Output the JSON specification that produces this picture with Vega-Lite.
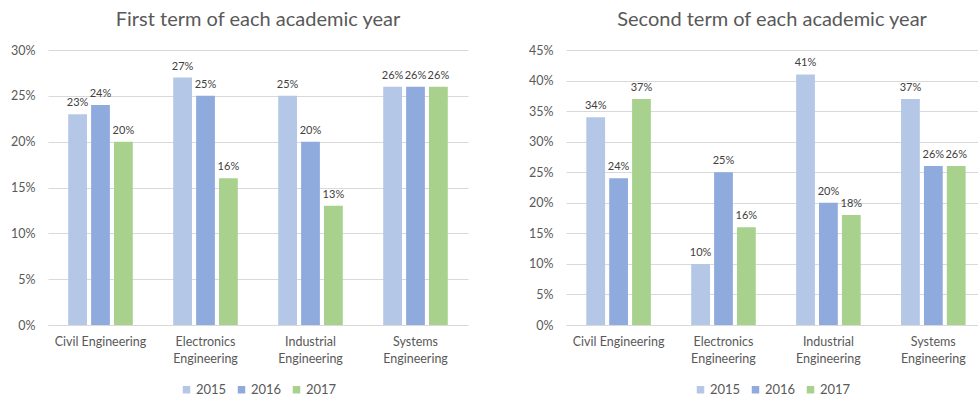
{
  "$schema": "https://vega.github.io/schema/vega-lite/v6.json",
  "background": "white",
  "padding": {"left": 10, "right": 0, "top": 10, "bottom": 0},
  "config": {
    "font": "Lato",
    "view": {"stroke": null},
    "axis": {"labelColor": "#595959", "labelFontSize": 12.5, "title": null, "ticks": false, "gridColor": "#D9D9D9", "domainColor": "#D9D9D9"},
    "title": {"fontSize": 20, "fontWeight": "normal", "color": "#595959", "offset": 14},
    "legend": {"layout": {"bottom": {"anchor": "middle"}}},
    "concat": {"spacing": 60}
  },
  "data": {
    "values": [
      {"term": "first", "dept": "Civil Engineering", "year": "2015", "value": 0.23},
      {"term": "first", "dept": "Civil Engineering", "year": "2016", "value": 0.24},
      {"term": "first", "dept": "Civil Engineering", "year": "2017", "value": 0.20},
      {"term": "first", "dept": "Electronics Engineering", "year": "2015", "value": 0.27},
      {"term": "first", "dept": "Electronics Engineering", "year": "2016", "value": 0.25},
      {"term": "first", "dept": "Electronics Engineering", "year": "2017", "value": 0.16},
      {"term": "first", "dept": "Industrial Engineering", "year": "2015", "value": 0.25},
      {"term": "first", "dept": "Industrial Engineering", "year": "2016", "value": 0.20},
      {"term": "first", "dept": "Industrial Engineering", "year": "2017", "value": 0.13},
      {"term": "first", "dept": "Systems Engineering", "year": "2015", "value": 0.26},
      {"term": "first", "dept": "Systems Engineering", "year": "2016", "value": 0.26},
      {"term": "first", "dept": "Systems Engineering", "year": "2017", "value": 0.26},
      {"term": "second", "dept": "Civil Engineering", "year": "2015", "value": 0.34},
      {"term": "second", "dept": "Civil Engineering", "year": "2016", "value": 0.24},
      {"term": "second", "dept": "Civil Engineering", "year": "2017", "value": 0.37},
      {"term": "second", "dept": "Electronics Engineering", "year": "2015", "value": 0.10},
      {"term": "second", "dept": "Electronics Engineering", "year": "2016", "value": 0.25},
      {"term": "second", "dept": "Electronics Engineering", "year": "2017", "value": 0.16},
      {"term": "second", "dept": "Industrial Engineering", "year": "2015", "value": 0.41},
      {"term": "second", "dept": "Industrial Engineering", "year": "2016", "value": 0.20},
      {"term": "second", "dept": "Industrial Engineering", "year": "2017", "value": 0.18},
      {"term": "second", "dept": "Systems Engineering", "year": "2015", "value": 0.37},
      {"term": "second", "dept": "Systems Engineering", "year": "2016", "value": 0.26},
      {"term": "second", "dept": "Systems Engineering", "year": "2017", "value": 0.26}
    ]
  },
  "resolve": {"legend": {"color": "independent"}, "scale": {"color": "independent"}},
  "hconcat": [
    {
      "title": "First term of each academic year",
      "width": 420,
      "height": 275,
      "transform": [{"filter": "datum.term == 'first'"}],
      "encoding": {
        "x": {"field": "dept", "type": "nominal", "sort": null,
          "scale": {"paddingInner": 0.385, "paddingOuter": 0.1925},
          "axis": {"labelAngle": 0, "labelPadding": 10, "labelLineHeight": 17, "labelExpr": "datum.label == 'Civil Engineering' ? datum.label : split(datum.label, ' ')", "domain": true, "grid": false}},
        "xOffset": {"field": "year", "type": "nominal", "scale": {"paddingInner": 0.18, "paddingOuter": 0}},
        "y": {"field": "value", "type": "quantitative", "scale": {"domain": [0, 0.3]},
          "axis": {"format": ".0%", "values": [0, 0.05, 0.1, 0.15, 0.2, 0.25, 0.3], "domain": false, "labelPadding": 13, "minExtent": 38, "maxExtent": 38}}
      },
      "layer": [
        {"mark": {"type": "bar"},
          "encoding": {"color": {"field": "year", "type": "nominal", "scale": {"range": ["#B4C7E7", "#8FAADC", "#A9D18E"]},
            "legend": {"orient": "bottom", "direction": "horizontal", "title": null, "symbolType": "square", "symbolSize": 56, "symbolStrokeWidth": 0, "labelFontSize": 13, "labelColor": "#595959", "columnPadding": 8, "labelOffset": 3}}}},
        {"mark": {"type": "text", "baseline": "bottom", "dy": -6, "fontSize": 11, "color": "#404040"},
          "encoding": {"text": {"field": "value", "type": "quantitative", "format": ".0%"}}}
      ]
    },
    {
      "title": "Second term of each academic year",
      "width": 412,
      "height": 275,
      "transform": [{"filter": "datum.term == 'second'"}],
      "encoding": {
        "x": {"field": "dept", "type": "nominal", "sort": null,
          "scale": {"paddingInner": 0.385, "paddingOuter": 0.156, "align": 0.62},
          "axis": {"labelAngle": 0, "labelPadding": 10, "labelLineHeight": 17, "labelExpr": "datum.label == 'Civil Engineering' ? datum.label : split(datum.label, ' ')", "domain": true, "grid": false}},
        "xOffset": {"field": "year", "type": "nominal", "scale": {"paddingInner": 0.18, "paddingOuter": 0}},
        "y": {"field": "value", "type": "quantitative", "scale": {"domain": [0, 0.45]},
          "axis": {"format": ".0%", "values": [0, 0.05, 0.1, 0.15, 0.2, 0.25, 0.3, 0.35, 0.4, 0.45], "domain": false, "labelPadding": 13, "minExtent": 38, "maxExtent": 38}}
      },
      "layer": [
        {"mark": {"type": "bar"},
          "encoding": {"color": {"field": "year", "type": "nominal", "scale": {"range": ["#B4C7E7", "#8FAADC", "#A9D18E"]},
            "legend": {"orient": "bottom", "direction": "horizontal", "title": null, "symbolType": "square", "symbolSize": 56, "symbolStrokeWidth": 0, "labelFontSize": 13, "labelColor": "#595959", "columnPadding": 8, "labelOffset": 3}}}},
        {"mark": {"type": "text", "baseline": "bottom", "dy": -6, "fontSize": 11, "color": "#404040"},
          "encoding": {"text": {"field": "value", "type": "quantitative", "format": ".0%"}}}
      ]
    }
  ]
}
